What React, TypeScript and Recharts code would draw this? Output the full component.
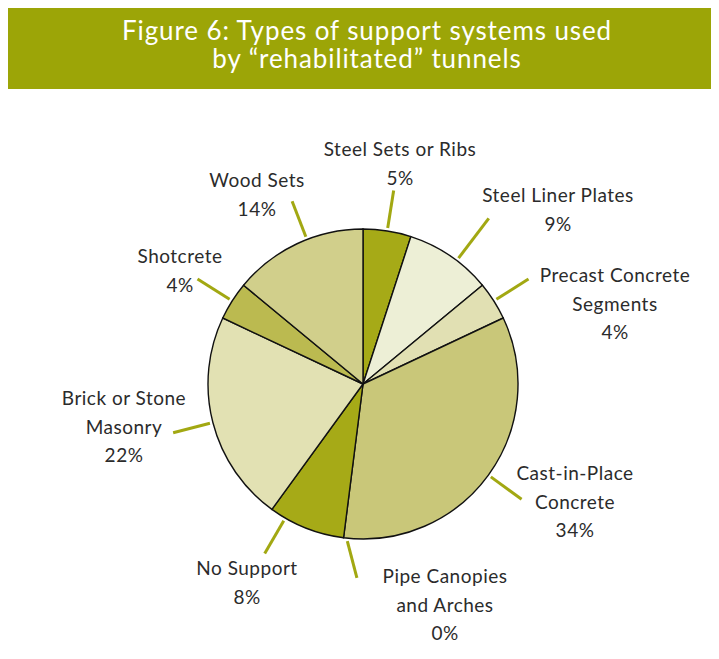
import React from 'react';
import { PieChart, Pie, Cell } from 'recharts';

// ---- data ----
const categories = [
  'Steel Sets or Ribs',
  'Steel Liner Plates',
  'Precast Concrete\nSegments',
  'Cast-in-Place\nConcrete',
  'Pipe Canopies\nand Arches',
  'No Support',
  'Brick or Stone\nMasonry',
  'Shotcrete',
  'Wood Sets',
];
const shares = [5, 9, 4, 34, 0, 8, 22, 4, 14];
const titleLines = ['Figure 6: Types of support systems used', 'by \u201Crehabilitated\u201D tunnels'];

// ---- styles / layout ----
const sliceColors = ['#a6aa17', '#edefd6', '#e1e0b3', '#c9c779', '#c9c779', '#a6aa17', '#e2e1b3', '#bbba50', '#d1cf8b'];
// text block position (centre x, first baseline) relative to pie centre
const labelOffsets: [number, number][] = [
  [37, -228],
  [195, -182],
  [252, -102],
  [212, 96],
  [82, 199],
  [-116, 191],
  [-239, 21],
  [-183, -121],
  [-106, -197],
];
const lineLength = [38, 50, 38, 38, 36, 38, 38, 38, 38];
// angular tweak (deg) of the leader line's inner and outer ends
const shiftInner = [0, -3, 0, 0, 1.5, -8.5, 0, 0, -4];
const shiftOuter = [0, -3, 0, 0, 5.4, -8.5, 0, 0, -4];

const data = categories.map((name, i) => ({ name, value: shares[i] }));

const RAD = Math.PI / 180;
const FONT = 'Lato, "Open Sans", sans-serif';

const renderLabel = (props: any) => {
  const { cx, cy, midAngle, outerRadius, index, value } = props;
  const a0 = (midAngle + shiftInner[index]) * RAD;
  const a1 = (midAngle + shiftOuter[index]) * RAD;
  const r0 = outerRadius + 3;
  const r1 = outerRadius + 3 + lineLength[index];
  const lines = [...categories[index].split('\n'), `${value}%`];
  const [ox, oy] = labelOffsets[index];
  return (
    <g key={`lbl-${index}`}>
      <line
        x1={cx + r0 * Math.cos(-a0)}
        y1={cy + r0 * Math.sin(-a0)}
        x2={cx + r1 * Math.cos(-a1)}
        y2={cy + r1 * Math.sin(-a1)}
        stroke="#a2a812"
        strokeWidth={3}
      />
      <text
        x={cx + ox}
        y={cy + oy}
        textAnchor="middle"
        fill="#2b2b2b"
        fontSize={19}
        letterSpacing={0.5}
        fontFamily={FONT}
      >
        {lines.map((t, k) => (
          <tspan key={k} x={cx + ox} y={cy + oy + k * 28.5}>
            {t}
          </tspan>
        ))}
      </text>
    </g>
  );
};

export default function App() {
  return (
    <div style={{ position: 'relative', width: 719, height: 659, margin: -8, background: '#fff', overflow: 'hidden' }}>
      <div style={{ position: 'absolute', left: 7, top: 7, width: 712, height: 82, background: '#9ca507' }} />
      <div style={{ position: 'absolute', left: 6, top: 89, width: 2, height: 570, background: '#a2a812' }} />
      <svg width={719} height={100} style={{ position: 'absolute', left: 0, top: 0 }}>
        {titleLines.map((t, i) => (
          <text
            key={i}
            x={367}
            y={40 + i * 28}
            textAnchor="middle"
            fill="#ffffff"
            fontSize={26}
            letterSpacing={0.9}
            fontFamily={FONT}
          >
            {t}
          </text>
        ))}
      </svg>
      <div style={{ position: 'absolute', left: 0, top: 0 }}>
        <PieChart width={719} height={659} margin={{ top: 0, right: 0, bottom: 0, left: 0 }}>
          <Pie
            data={data}
            dataKey="value"
            nameKey="name"
            cx={363}
            cy={384}
            outerRadius={155}
            startAngle={90}
            endAngle={-270}
            stroke="#111"
            strokeWidth={1.4}
            label={renderLabel}
            labelLine={false}
            isAnimationActive={false}
          >
            {data.map((d, i) => (
              <Cell key={d.name} fill={sliceColors[i]} />
            ))}
          </Pie>
        </PieChart>
      </div>
    </div>
  );
}
